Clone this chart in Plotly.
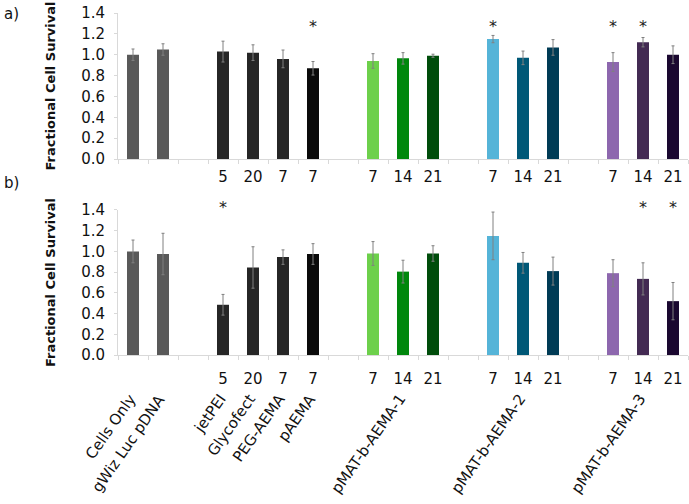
import plotly.graph_objects as go

# ---- data ----
bar_slots = [0, 1, 3, 4, 5, 6, 8, 9, 10, 12, 13, 14, 16, 17, 18]
num_labels = ["", "", "5", "20", "7", "7", "7", "14", "21", "7", "14", "21", "7", "14", "21"]
group_names = ["Cells Only", "gWiz Luc pDNA", "jetPEI", "Glycofect", "PEG-AEMA", "pAEMA",
               "pMAT-b-AEMA-1", "pMAT-b-AEMA-2", "pMAT-b-AEMA-3"]
group_name_slots = [0, 1, 3, 4, 5, 6, 9, 13, 17]

colors = ["#595959", "#595959", "#262626", "#262626", "#262626", "#0a0a0a",
          "#6dd04b", "#00870c", "#004d0b",
          "#55b4d8", "#005877", "#003b55",
          "#8d67ae", "#432a53", "#1a0830"]

top_vals = [1.00, 1.05, 1.03, 1.02, 0.96, 0.87, 0.94, 0.965, 0.99, 1.15, 0.97, 1.07, 0.93, 1.12, 1.00]
top_err = [0.055, 0.055, 0.10, 0.075, 0.085, 0.065, 0.07, 0.055, 0.015, 0.035, 0.065, 0.075, 0.09, 0.045, 0.085]
top_star_slots = [6, 12, 16, 17]
top_star_y = 1.28

bot_vals = [1.00, 0.975, 0.485, 0.845, 0.945, 0.975, 0.98, 0.805, 0.98, 1.15, 0.89, 0.81, 0.79, 0.735, 0.52]
bot_err = [0.11, 0.20, 0.10, 0.20, 0.07, 0.10, 0.115, 0.11, 0.075, 0.23, 0.10, 0.135, 0.13, 0.155, 0.18]
bot_star_slots = [3, 17, 18]
bot_star_y = 1.40   # drawn just above the top of the axis

FONT = "DejaVu Sans"
AXC = "#d9d9d9"
TXT = "#111111"

fig = go.Figure()

def add_panel(vals, errs, stars, star_y, star_shift, xa, ya):
    fig.add_trace(go.Bar(
        x=bar_slots, y=vals, width=0.4, marker=dict(color=colors, line=dict(width=0)),
        error_y=dict(type="data", array=errs, visible=True, color="#808080", thickness=1, width=1.5),
        xaxis=xa, yaxis=ya, showlegend=False, hoverinfo="x+y"))
    for s in stars:
        fig.add_annotation(x=s, y=star_y, xref=xa, yref=ya, text="*", showarrow=False,
                           xanchor="center", yanchor="middle", yshift=star_shift,
                           font=dict(family=FONT, size=16, color="#222"))

add_panel(top_vals, top_err, top_star_slots, top_star_y, -1, "x", "y")
add_panel(bot_vals, bot_err, bot_star_slots, bot_star_y, 2, "x2", "y2")

def xaxis(standoff):
    return dict(range=[-0.5, 18.5], tickmode="array", tickvals=bar_slots, ticktext=num_labels,
                ticks="", showline=True, linecolor=AXC, linewidth=1, showgrid=False, zeroline=False,
                tickfont=dict(family=FONT, size=15, color=TXT), ticklabelstandoff=standoff,
                minor=dict(ticks="outside", ticklen=4, tickcolor=AXC, tick0=-0.5, dtick=1),
                domain=[0, 1])

ycommon = dict(range=[0, 1.4], dtick=0.2, tickformat=".1f", showline=True, linecolor=AXC,
               ticks="outside", ticklen=3, tickcolor=AXC, showgrid=False, zeroline=False,
               tickfont=dict(family=FONT, size=15, color=TXT), ticklabelstandoff=6,
               title=dict(text="<b>Fractional Cell Survival</b>",
                          font=dict(family=FONT, size=13, color=TXT), standoff=22))

fig.update_layout(
    width=689, height=504,
    margin=dict(l=118, r=1, t=13, b=149),
    paper_bgcolor="white", plot_bgcolor="white",
    xaxis=dict(**xaxis(4), anchor="y"),
    yaxis=dict(**ycommon, domain=[0.573, 1], anchor="x"),
    xaxis2=dict(**xaxis(10), anchor="y2"),
    yaxis2=dict(**ycommon, domain=[0, 0.424], anchor="x2"),
)

for name, s in zip(group_names, group_name_slots):
    fig.add_annotation(x=s, y=0, xref="x2", yref="paper", text=name, textangle=-55,
                       showarrow=False, xanchor="right", yanchor="top", xshift=9, yshift=-33,
                       font=dict(family=FONT, size=15, color=TXT))

fig.add_annotation(x=0, y=1, xref="paper", yref="paper", text="a)", showarrow=False,
                   xanchor="left", yanchor="middle", xshift=-116, yshift=-1,
                   font=dict(family=FONT, size=15, color=TXT))
fig.add_annotation(x=0, y=0.424, xref="paper", yref="paper", text="b)", showarrow=False,
                   xanchor="left", yanchor="middle", xshift=-116, yshift=27,
                   font=dict(family=FONT, size=15, color=TXT))

fig.write_html("out.html", config={"displayModeBar": False},
               post_script="document.body.style.margin='0px';")
